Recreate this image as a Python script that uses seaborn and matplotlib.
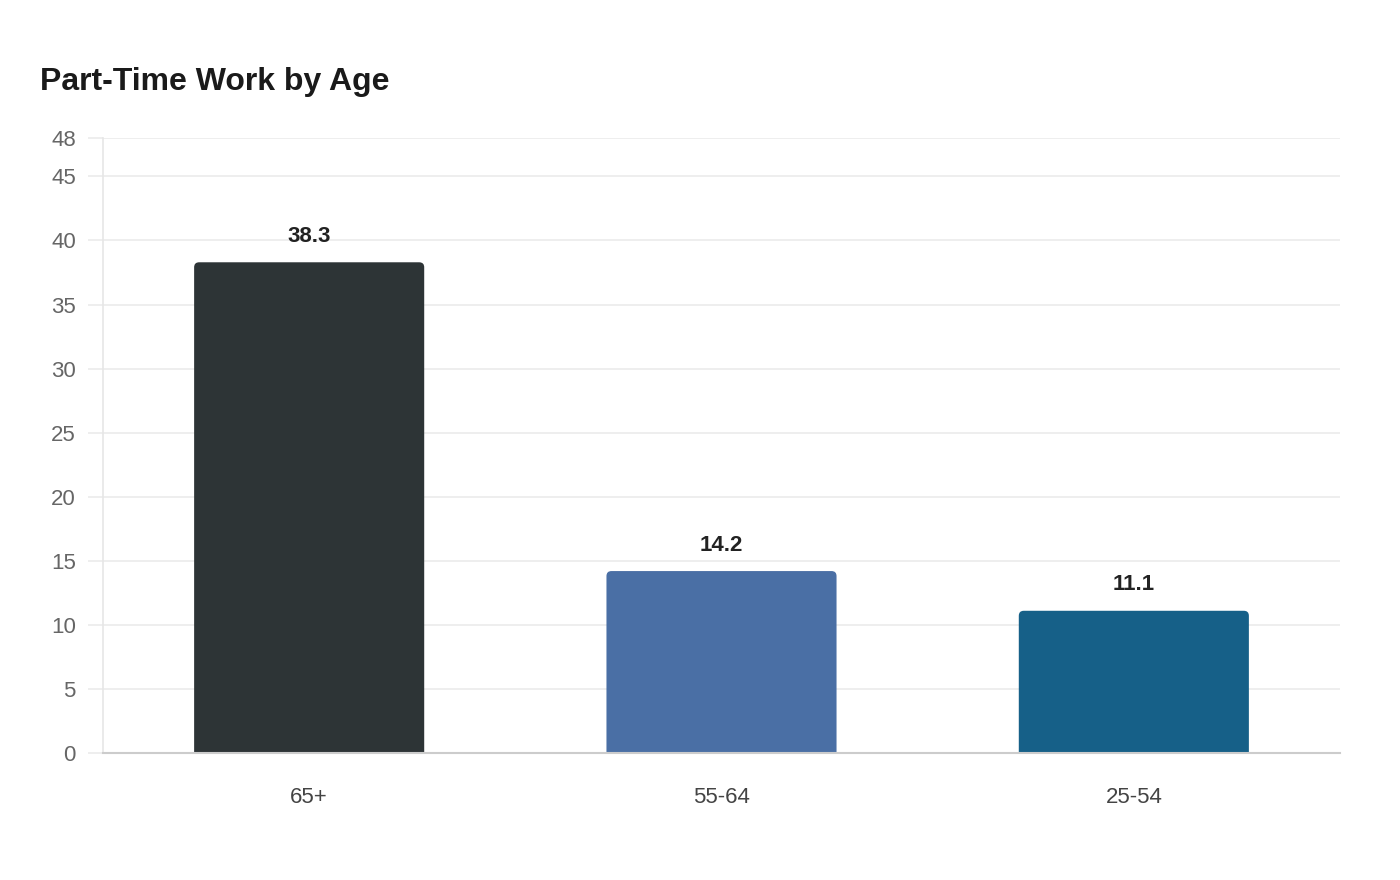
import matplotlib
matplotlib.use("Agg")
import matplotlib.pyplot as plt
import seaborn as sns
import pandas as pd
from matplotlib.patches import FancyBboxPatch

categories = ["65+", "55-64", "25-54"]
values = [38.3, 14.2, 11.1]
colors = ["#2d3436", "#4a6fa5", "#166088"]
yticks = [0, 5, 10, 15, 20, 25, 30, 35, 40, 45, 48]

sns.set_theme(style="white")
plt.rcParams['font.family'] = ['Liberation Sans', 'DejaVu Sans']

df = pd.DataFrame({"age": categories, "value": values})

fig = plt.figure(figsize=(14, 8.8), dpi=100)
ax = fig.add_axes([103/1400, 1-753/880, (1340-103)/1400, (753-138)/880])

sns.barplot(data=df, x="age", y="value", hue="age", palette=colors, width=0.558,
            legend=False, ax=ax, saturation=1)

ax.set_xlim(-0.5, 2.5)
ax.set_ylim(0, 48)

# rounded tops
x_px_per_unit = (1340-103)/3
y_px_per_unit = (753-138)/48
aspect = x_px_per_unit / y_px_per_unit
for p in list(ax.patches):
    x0, w, h = p.get_x(), p.get_width(), p.get_height()
    fc = p.get_facecolor()
    p.remove()
    r = 5 / x_px_per_unit
    fb = FancyBboxPatch((x0, -2), w, h + 2,
                        boxstyle=f"round,pad=0,rounding_size={r}",
                        mutation_aspect=aspect, facecolor=fc, edgecolor="none", zorder=2)
    ax.add_patch(fb)

for i, v in enumerate(values):
    ax.text(i, v + 1.2, f"{v}", ha="center", va="bottom", fontsize=16,
            fontweight="bold", color="#222222")

ax.set_yticks(yticks)
ax.set_yticklabels([str(t) for t in yticks])
ax.yaxis.grid(True, color="#ebebeb", linewidth=1.2, zorder=0)
ax.set_axisbelow(True)
ax.tick_params(axis="y", length=11, color="#ebebeb", width=1.2, labelsize=16,
               labelcolor="#666666", pad=8.5, left=True)
ax.tick_params(axis="x", length=0, labelsize=16, labelcolor="#444444", pad=24.5)
ax.set_xlabel("")
ax.set_ylabel("")

for s in ["top", "right"]:
    ax.spines[s].set_visible(False)
ax.spines["left"].set_color("#e6e6e6")
ax.spines["left"].set_linewidth(1.2)
ax.spines["bottom"].set_color("#cccccc")
ax.spines["bottom"].set_linewidth(1.5)

fig.text(40/1400, 1-82/880, "Part-Time Work by Age", fontsize=23, fontweight="bold",
         color="#1a1a1a", ha="left", va="center")

fig.savefig("out.png", dpi=100, facecolor="white")
